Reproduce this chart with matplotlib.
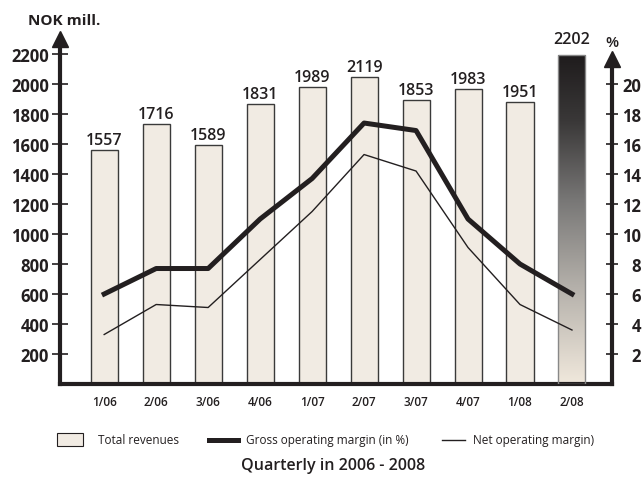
import numpy as np
import matplotlib
matplotlib.use('Agg')
import matplotlib.pyplot as plt
from matplotlib.colors import LinearSegmentedColormap
from matplotlib.patches import Rectangle
from matplotlib.lines import Line2D

plt.rcParams.update({'font.family': 'Open Sans', 'font.size': 11})

quarters = ['1/06', '2/06', '3/06', '4/06', '1/07', '2/07', '3/07', '4/07', '1/08', '2/08']
# bar heights as drawn (NOK mill.) and the printed labels
bar_heights = [1560, 1733, 1593, 1867, 1982, 2047, 1893, 1967, 1880, 2193]
bar_labels = ['1557', '1716', '1589', '1831', '1989', '2119', '1853', '1983', '1951', '2202']
gross_margin = [6.0, 7.7, 7.7, 11.0, 13.7, 17.4, 16.9, 11.0, 8.0, 6.0]
net_margin = [3.3, 5.3, 5.1, 8.3, 11.5, 15.3, 14.2, 9.1, 5.3, 3.6]
left_ticks = [200, 400, 600, 800, 1000, 1200, 1400, 1600, 1800, 2000, 2200]
right_ticks = [2, 4, 6, 8, 10, 12, 14, 16, 18, 20]

INK = '#231f20'
BEIGE = '#f1ebe3'
W, H = 644, 481

fig = plt.figure(figsize=(W/100, H/100), dpi=100)
ax = fig.add_axes([60/W, 1-385/H, 552/W, 352/H])
x = np.arange(len(quarters))

bars = ax.bar(x[:-1], bar_heights[:-1], width=0.52, color=BEIGE, edgecolor='#3a3a3a', lw=1.0, zorder=2)
# last bar with dark gradient
cmap = LinearSegmentedColormap.from_list('g', [(0, '#f0e8dc'), (0.3, '#b3afa9'), (0.55, '#7a7978'),
                                               (0.8, '#3a3838'), (1, '#1f1c1d')])
grad = np.linspace(0, 1, 256).reshape(-1, 1)
xl = x[-1]
ax.imshow(grad, cmap=cmap, origin='lower', aspect='auto', zorder=2,
          extent=[xl-0.26, xl+0.26, 0, bar_heights[-1]])
ax.add_patch(Rectangle((xl-0.26, 0), 0.52, bar_heights[-1], fill=False, edgecolor='#888', lw=1.0, zorder=3))
ax.set_xlim(-0.85, 9.77); ax.set_ylim(0, 2347)

for i, (h, lab) in enumerate(zip(bar_heights, bar_labels)):
    off = 6 if i == len(quarters)-1 else 1.5
    ax.annotate(lab, (x[i], h), xytext=(0, off), textcoords='offset points',
                ha='center', va='bottom', fontsize=11.5, fontweight='semibold', color=INK)

for s in ['top', 'right']:
    ax.spines[s].set_visible(False)
for s in ['left', 'bottom']:
    ax.spines[s].set_linewidth(3)
    ax.spines[s].set_color(INK)
ax.spines['left'].set_bounds(0, 2240)
ax.spines['bottom'].set_capstyle('projecting')

ax.set_yticks(left_ticks)
ax.set_yticklabels([str(t) for t in left_ticks], fontsize=12, fontweight='bold', color=INK)
ax.tick_params(axis='y', direction='inout', length=12, width=1.2, color=INK, pad=2)
ax.yaxis.get_major_ticks()[-1].tick1line.set_visible(False)
ax.set_xticks(x)
ax.set_xticklabels(quarters, fontsize=8.5, fontweight='semibold', color=INK)
ax.tick_params(axis='x', length=0, pad=8)

# axis arrows
ax.plot([0], [2297], marker='^', ms=12, color=INK, transform=ax.get_yaxis_transform(), clip_on=False)
ax.plot([1], [2167], marker='^', ms=12, color=INK, transform=ax.get_yaxis_transform(), clip_on=False)

ax2 = ax.twinx()
ax2.set_ylim(0, 23.47)
for s in ['top', 'left', 'bottom']:
    ax2.spines[s].set_visible(False)
ax2.spines['right'].set_linewidth(3)
ax2.spines['right'].set_color(INK)
ax2.spines['right'].set_bounds(0, 21.07)
ax2.plot(x, gross_margin, color=INK, lw=3.6, zorder=4)
ax2.plot(x, net_margin, color=INK, lw=1.0, zorder=4)
ax2.set_yticks(right_ticks)
ax2.set_yticklabels([str(t) for t in right_ticks], fontsize=12, fontweight='bold', color=INK, ha='right')
ax2.tick_params(axis='y', direction='inout', length=8, width=1.2, color=INK, pad=17)

fig.text(28/W, 1-21/H, 'NOK mill.', fontsize=11, fontweight='bold', color=INK, va='center', ha='left')
fig.text(612/W, 1-43/H, '%', fontsize=11, fontweight='semibold', color=INK, va='center', ha='center')

# legend
ly = 1-441/H
fig.patches.append(Rectangle((57/W, 1-447/H), 26/W, 13/H, transform=fig.transFigure,
                             facecolor=BEIGE, edgecolor=INK, lw=0.8))
fig.text(98/W, ly, 'Total revenues', fontsize=8.5, color=INK, va='center')
fig.lines.append(Line2D([209/W, 238/W], [ly, ly], transform=fig.transFigure, color=INK, lw=3.6))
fig.text(246/W, ly, 'Gross operating margin (in %)', fontsize=8.5, color=INK, va='center')
fig.lines.append(Line2D([442/W, 465/W], [ly, ly], transform=fig.transFigure, color=INK, lw=1.0))
fig.text(473/W, ly, 'Net operating margin)', fontsize=8.5, color=INK, va='center')
fig.text(333/W, 1-466/H, 'Quarterly in 2006 - 2008', fontsize=11.5, fontweight='semibold',
         color=INK, va='center', ha='center')

fig.savefig('out.png', dpi=100)
